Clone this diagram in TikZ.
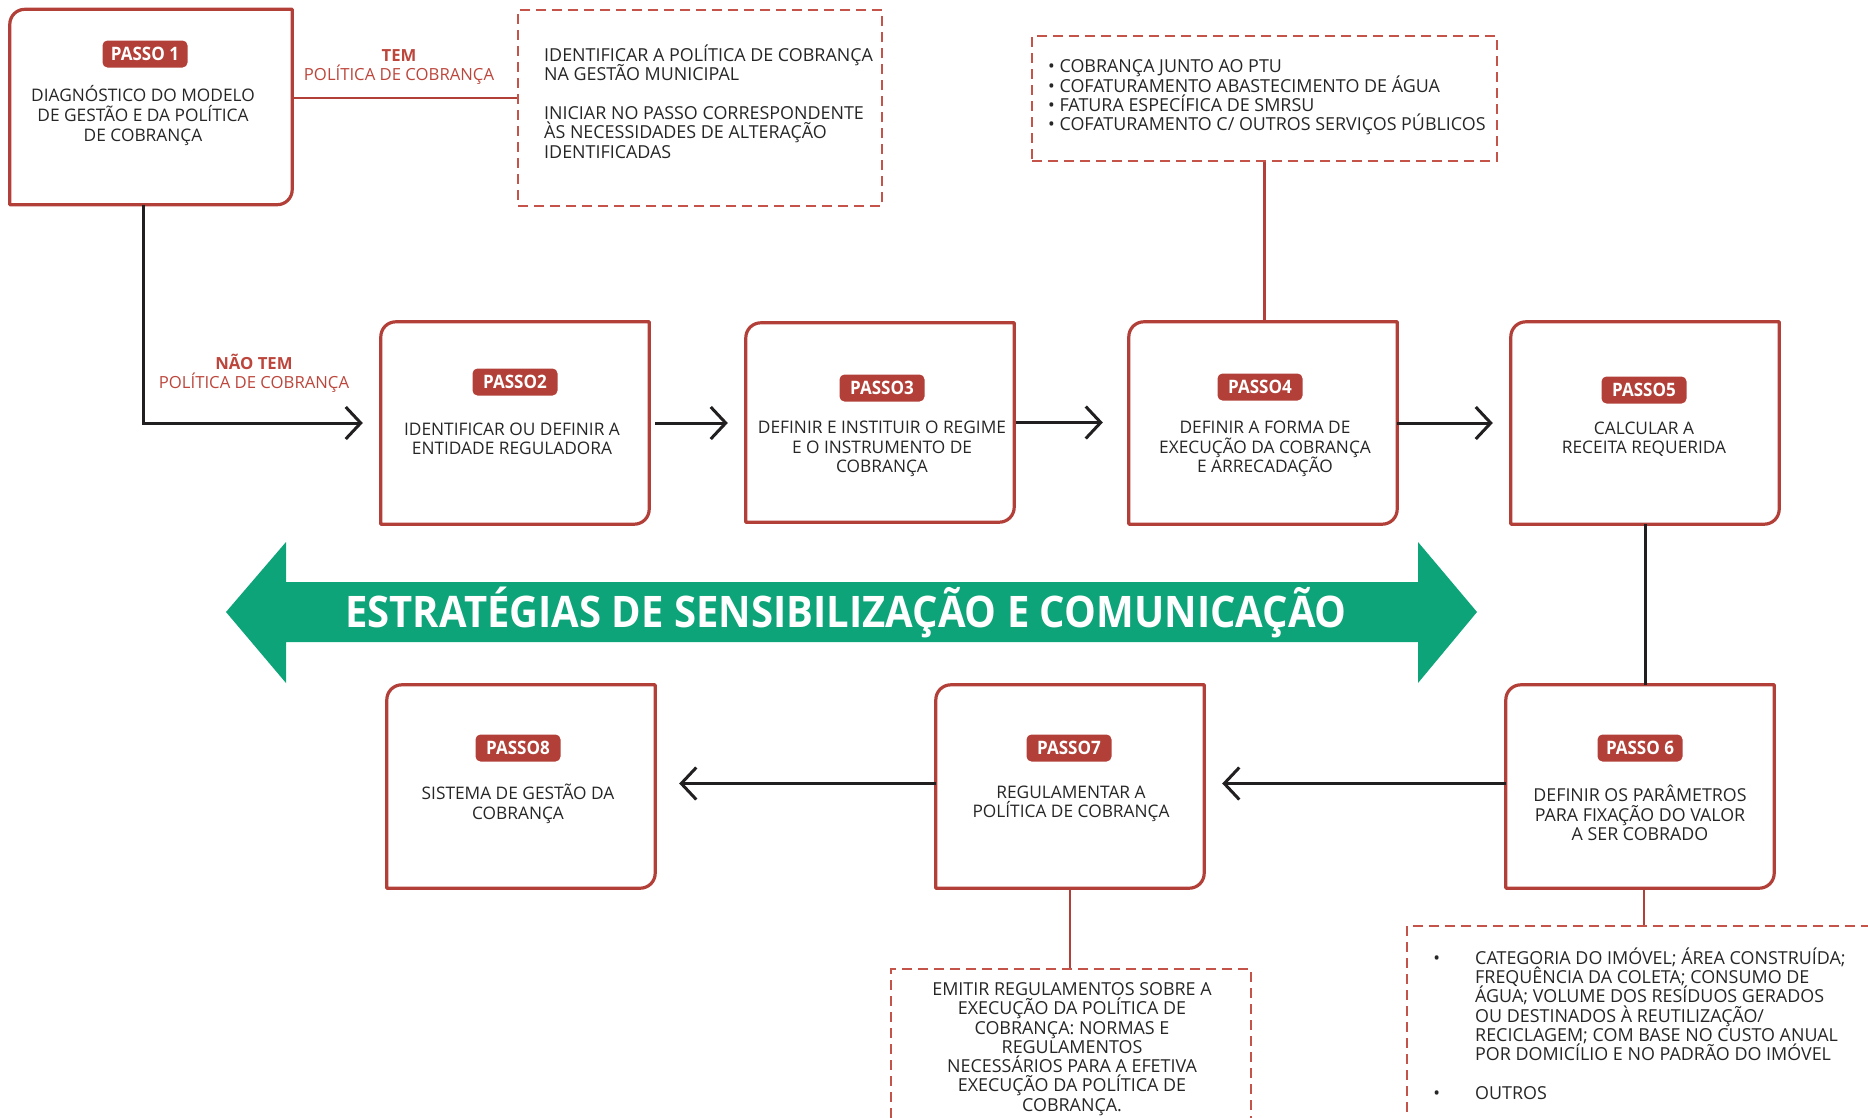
\documentclass[tikz,border=0pt]{standalone}
\usepackage{fontspec}
\setmainfont{Open Sans}
\newfontfamily\bannerfont[FakeStretch=0.92]{Open Sans}
\newfontfamily\pillfont[FakeStretch=0.92]{Open Sans}
\usetikzlibrary{arrows.meta,calc}
\lineskiplimit=-100pt
\definecolor{boxred}{RGB}{178,64,56}
\definecolor{dashred}{RGB}{196,84,74}
\definecolor{labred}{RGB}{188,70,60}
\definecolor{bandgreen}{RGB}{14,164,122}
\definecolor{lineblack}{RGB}{34,31,32}
\definecolor{txt}{RGB}{38,38,38}
\newcommand\stepframe[1]{\draw[frame] ($(#1.north west)+(0,15)$) .. controls ($(#1.north west)+(0,6.7)$) and ($(#1.north west)+(6.7,0)$) .. ($(#1.north west)+(15,0)$) -- (#1.north east) -- ($(#1.south east)+(0,-15)$) .. controls ($(#1.south east)+(0,-6.7)$) and ($(#1.south east)+(-6.7,0)$) .. ($(#1.south east)+(-15,0)$) -- (#1.south west) -- cycle;}
\begin{document}
\begin{tikzpicture}[x=1pt,y=-1pt,
  stepbox/.style={minimum width=268pt,minimum height=202pt,inner sep=0pt},
  frame/.style={draw=boxred,line width=3.2pt,line join=round},
  pill/.style={fill=boxred,rounded corners=5pt,text=white,font=\pillfont\bfseries\fontsize{18.5}{20}\selectfont,minimum width=85pt,minimum height=27pt,inner sep=0pt},
  body/.style={align=center,font=\fontsize{17.3}{19.6}\selectfont,text=txt,inner sep=0pt},
  note/.style={align=left,font=\fontsize{17.9}{19.3}\selectfont,text=txt,inner sep=0pt},
  dashbox/.style={draw=dashred,line width=2.5pt,dash pattern=on 10pt off 6pt,inner sep=0pt},
  lab/.style={align=center,font=\fontsize{16.7}{19}\selectfont,text=labred,inner sep=0pt},
  arr/.style={draw=lineblack,line width=3pt,-{Straight Barb[length=15pt,width=32pt]},shorten >=18pt},
  plain/.style={draw=lineblack,line width=3pt},
  redline/.style={draw=boxred,line width=2.5pt}
]
\useasboundingbox (0,0) rectangle (1868,1117);
\clip (0,0) rectangle (1868,1117);

% step boxes
\node[stepbox,minimum width=282pt,minimum height=195pt] (p1) at (151,107) {};
\node[stepbox] (p2) at (515,423) {};
\node[stepbox,minimum height=199pt] (p3) at (880,422.5) {};
\node[stepbox] (p4) at (1263,423) {};
\node[stepbox] (p5) at (1645,423) {};
\node[stepbox,minimum height=203pt] (p8) at (521,786.5) {};
\node[stepbox,minimum height=203pt] (p7) at (1070,786.5) {};
\node[stepbox,minimum height=203pt] (p6) at (1640,786.5) {};
\foreach \n in {p1,p2,p3,p4,p5,p6,p7,p8}{\stepframe{\n}}

% pills
\node[pill] (t1) at (145,54) {PASSO 1};
\node[pill] (t2) at (515,382) {PASSO2};
\node[pill] (t3) at (882,388) {PASSO3};
\node[pill] (t4) at (1260,387) {PASSO4};
\node[pill] (t5) at (1644,390) {PASSO5};
\node[pill] (t6) at (1640,748) {PASSO 6};
\node[pill] (t7) at (1069,748) {PASSO7};
\node[pill] (t8) at (518,748) {PASSO8};

% body texts
\node[body] (b1) at (143,115.5) {DIAGNÓSTICO DO MODELO\\DE GESTÃO E DA POLÍTICA\\DE COBRANÇA};
\node[body] (b2) at (512,439) {IDENTIFICAR OU DEFINIR A\\ENTIDADE REGULADORA};
\node[body] (b3) at (882,449) {DEFINIR E INSTITUIR O REGIME\\E O INSTRUMENTO DE\\COBRANÇA};
\node[body] (b4) at (1265,449) {DEFINIR A FORMA DE\\EXECUÇÃO DA COBRANÇA\\E ARRECADAÇÃO};
\node[body] (b5) at (1644,439) {CALCULAR A\\RECEITA REQUERIDA};
\node[body,font=\fontsize{17.8}{19.6}\selectfont] (b6) at (1640,813) {DEFINIR OS PARÂMETROS\\PARA FIXAÇÃO DO VALOR\\A SER COBRADO};
\node[body] (b7) at (1071,804) {REGULAMENTAR A\\POLÍTICA DE COBRANÇA};
\node[body] (b8) at (518,804) {SISTEMA DE GESTÃO DA\\COBRANÇA};

% dashed boxes
\node[dashbox,minimum width=364pt,minimum height=196pt] (d1) at (700,108) {};
\node[dashbox,minimum width=465pt,minimum height=125pt] (d2) at (1264.5,98.5) {};
\node[dashbox,minimum width=360pt,minimum height=181pt] (d3) at (1071,1059.5) {};
\node[dashbox,minimum width=488pt,minimum height=224pt] (d4) at (1651,1038) {};

\node[note,anchor=west] (n1) at (544,101.5) {IDENTIFICAR A POLÍTICA DE COBRANÇA\\NA GESTÃO MUNICIPAL\\[19.3pt]INICIAR NO PASSO CORRESPONDENTE\\ÀS NECESSIDADES DE ALTERAÇÃO\\IDENTIFICADAS};
\node[note,anchor=west] (n2) at (1048,97.5) {• COBRANÇA JUNTO AO PTU\\• COFATURAMENTO ABASTECIMENTO DE ÁGUA\\• FATURA ESPECÍFICA DE SMRSU\\• COFATURAMENTO C/ OUTROS SERVIÇOS PÚBLICOS};
\node[note,align=center] (n3) at (1072,1049) {EMITIR REGULAMENTOS SOBRE A\\EXECUÇÃO DA POLÍTICA DE\\COBRANÇA: NORMAS E\\REGULAMENTOS\\NECESSÁRIOS PARA A EFETIVA\\EXECUÇÃO DA POLÍTICA DE\\COBRANÇA.};
\node[note,anchor=west] (n4) at (1475,1023.5) {\llap{•\hspace{35pt}}CATEGORIA DO IMÓVEL; ÁREA CONSTRUÍDA;\\FREQUÊNCIA DA COLETA; CONSUMO DE\\ÁGUA; VOLUME DOS RESÍDUOS GERADOS\\OU DESTINADOS À REUTILIZAÇÃO/\\RECICLAGEM; COM BASE NO CUSTO ANUAL\\POR DOMICÍLIO E NO PADRÃO DO IMÓVEL\\[19.3pt]\llap{•\hspace{35pt}}OUTROS};

% labels
\node[lab] (l1) at (399,67.5) {\textbf{TEM}\\POLÍTICA DE COBRANÇA};
\node[lab] (l2) at (254,373) {\textbf{NÃO TEM}\\POLÍTICA DE COBRANÇA};

% green banner
\fill[bandgreen] (226,612) -- (286,542) -- (286,582) -- (1418,582) -- (1418,542) -- (1477,612) -- (1418,683) -- (1418,642) -- (286,642) -- (286,683) -- cycle;
\node[text=white,font=\bannerfont\bfseries\fontsize{43.5}{46}\selectfont,inner sep=0pt] (banner) at (846,612) {ESTRATÉGIAS DE SENSIBILIZAÇÃO E COMUNICAÇÃO};

% connectors
\draw[redline] ([yshift=9pt]p1.east) -- ([yshift=9pt]p1.east -| d1.west);
\draw[redline] (d2.south) -- (d2.south |- p4.north);
\draw[redline] (p7.south) -- (p7.south |- d3.north);
\draw[redline] ([xshift=4pt]p6.south) -- ([xshift=4pt]p6.south |- d4.north);
\draw[arr] ([xshift=-8pt]p1.south) |- (p2.west);
\draw[arr,shorten <=6pt] (p2.east) -- (p2.east -| p3.west);
\draw[arr,shorten <=2pt,shorten >=26pt] (p3.east) -- (p3.east -| p4.west);
\draw[arr] (p4.east) -- (p4.east -| p5.west);
\draw[plain] (p5.south) -- (p5.south |- p6.north);
\draw[arr] ([yshift=3pt]p6.west) -- ([yshift=3pt]p6.west -| p7.east);
\draw[arr,shorten >=24pt] ([yshift=3pt]p7.west) -- ([yshift=3pt]p7.west -| p8.east);
\end{tikzpicture}
\end{document}
